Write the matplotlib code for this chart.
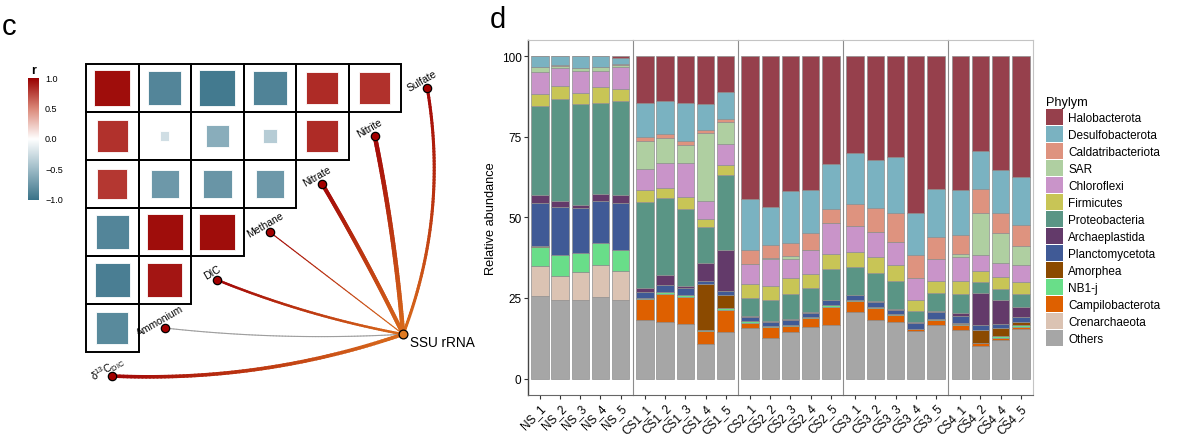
import numpy as np
import matplotlib
matplotlib.use("Agg")
import matplotlib.pyplot as plt
from matplotlib.colors import LinearSegmentedColormap, to_rgb
from matplotlib.collections import LineCollection
from matplotlib.patches import Rectangle, Patch

plt.rcParams['font.family'] = ['Liberation Sans', 'DejaVu Sans']

# ---------------- panel c data ----------------
env_vars = ['Sulfate', 'Nitrite', 'Nitrate', 'Methane', 'DIC', 'Ammonium',
            r'$\mathregular{\delta^{13}C_{DIC}}$']
# correlation triangle, one list per row (top row first)
corr_rows = [
    [0.95, -0.87, -0.95, -0.89, 0.84, 0.82],
    [0.82, -0.24, -0.60, -0.37, 0.84],
    [0.79, -0.74, -0.76, -0.74],
    [-0.87, 0.95, 0.95],
    [-0.92, 0.92],
    [-0.84],
]
link_width = [2.2, 3.2, 2.9, 0.8, 1.8, 0.8, 2.6]
link_signif = [True, True, True, True, True, False, True]
link_curv = [0.137, 0.03, 0.02, 0.0, -0.05, -0.042, -0.095]
cbar_ticks = [1.0, 0.5, 0.0, -0.5, -1.0]

# ---------------- panel d data ----------------
groups = ['NS', 'CS1', 'CS2', 'CS3', 'CS4']
group_samples = [
    ['NS_1', 'NS_2', 'NS_3', 'NS_4', 'NS_5'],
    ['CS1_1', 'CS1_2', 'CS1_3', 'CS1_4', 'CS1_5'],
    ['CS2_1', 'CS2_2', 'CS2_3', 'CS2_4', 'CS2_5'],
    ['CS3_1', 'CS3_2', 'CS3_3', 'CS3_4', 'CS3_5'],
    ['CS4_1', 'CS4_2', 'CS4_4', 'CS4_5'],
]
phyla = ['Halobacterota', 'Desulfobacterota', 'Caldatribacteriota', 'SAR', 'Chloroflexi',
         'Firmicutes', 'Proteobacteria', 'Archaeplastida', 'Planctomycetota', 'Amorphea',
         'NB1-j', 'Campilobacterota', 'Crenarchaeota', 'Others']
phyla_colors = ['#96404C', '#7AB2C1', '#DE937F', '#AFCFA1', '#C994C9',
                '#C8C556', '#5A9585', '#633A6A', '#405A96', '#8B4A00',
                '#69DE89', '#DE6000', '#DBC3B3', '#A6A6A6']

# values per phylum, samples in order NS_1..CS4_5
halobacterota = [0, 0, 0, 0, 0.5, 14.5, 13.9, 14.6, 15.0, 11.1, 44.2, 46.7, 41.8, 41.4, 33.4,
                 30.2, 32.3, 31.4, 48.6, 41.3, 41.4, 29.4, 35.4, 37.4]
desulfobacterota = [3.3, 2.9, 3.6, 3.3, 1.9, 10.7, 10.1, 11.7, 7.8, 8.5, 15.9, 12.0, 16.0, 13.5, 14.0,
                    15.7, 14.8, 17.3, 13.2, 14.8, 14.1, 11.9, 13.4, 14.9]
caldatribacteriota = [0.2, 0.2, 0.2, 0.2, 0.2, 1.1, 1.4, 1.2, 1.0, 0.7, 4.4, 4.1, 4.2, 5.3, 4.3,
                      6.8, 7.5, 9.0, 7.1, 6.8, 5.8, 7.3, 6.0, 6.6]
sar = [1.5, 0.7, 0.9, 1.0, 0.7, 8.7, 7.7, 5.6, 21.1, 6.8, 0.1, 0.1, 1.0, 0, 0,
       0, 0, 0, 0, 0, 1.0, 13.1, 9.4, 5.8]
chloroflexi = [6.9, 5.4, 6.7, 5.0, 6.8, 6.6, 7.7, 10.7, 5.7, 6.8, 6.0, 8.6, 5.9, 7.3, 9.7,
               8.2, 7.7, 7.1, 6.8, 6.9, 7.5, 4.8, 4.3, 5.5]
firmicutes = [3.6, 4.2, 3.3, 4.9, 3.9, 3.7, 3.3, 3.7, 2.4, 3.0, 4.6, 4.1, 5.0, 4.4, 4.6,
              4.7, 5.0, 5.0, 3.4, 3.7, 4.1, 3.7, 3.7, 3.7]
proteobacteria = [27.7, 31.6, 31.5, 28.5, 29.1, 26.6, 23.8, 23.8, 11.3, 23.1, 5.6, 6.5, 7.7, 7.6, 9.7,
                  8.4, 8.7, 8.6, 3.4, 5.6, 5.9, 3.3, 3.4, 3.9]
archaeplastida = [2.3, 1.8, 0.9, 2.1, 2.3, 1.3, 3.1, 0.6, 5.3, 12.7, 0.3, 0.3, 0.3, 0.2, 0,
                  0.2, 0.2, 0.3, 0.2, 0.3, 0.7, 9.8, 7.4, 3.2]
planctomycetota = [13.4, 15.0, 13.9, 13.0, 14.6, 1.7, 2.1, 2.3, 1.2, 1.4, 1.2, 1.3, 1.4, 1.3, 1.4,
                   1.5, 1.4, 1.3, 1.8, 2.2, 2.2, 1.6, 1.3, 1.3]
amorphea = [0.2, 0, 0, 0, 0, 0, 0, 0, 14.0, 4.1, 0, 0, 0, 0, 0,
            0, 0, 0, 0, 0, 0.3, 4.2, 2.5, 1.2]
nb1j = [6.0, 6.5, 6.1, 6.8, 6.7, 0.5, 0.6, 0.5, 0.3, 0.5, 0.6, 0.3, 0.4, 0.2, 0.5,
        0.4, 0.4, 0.4, 0.1, 0.2, 0.3, 0, 0.6, 0.5]
campilobacterota = [0, 0, 0, 0, 0, 6.4, 8.8, 8.3, 4.1, 7.0, 1.6, 3.5, 1.9, 2.7, 5.6,
                    3.2, 3.7, 1.9, 0.7, 1.7, 1.6, 0.7, 0.5, 0.6]
crenarchaeota = [9.4, 7.4, 8.6, 10.0, 8.8, 0, 0, 0, 0, 0, 0, 0, 0, 0, 0,
                 0, 0, 0, 0, 0, 0, 0, 0, 0]
others = [25.5, 24.3, 24.3, 25.2, 24.5, 18.2, 17.5, 17.0, 10.8, 14.3, 15.6, 12.6, 14.4, 16.1, 16.7,
          20.8, 18.2, 17.7, 14.7, 16.5, 15.1, 10.2, 12.1, 15.4]

abund = np.array([halobacterota, desulfobacterota, caldatribacteriota, sar, chloroflexi,
                  firmicutes, proteobacteria, archaeplastida, planctomycetota, amorphea,
                  nb1j, campilobacterota, crenarchaeota, others], dtype=float)
abund = abund / abund.sum(axis=0) * 100

W, H = 1179, 435
fig = plt.figure(figsize=(W / 100, H / 100), dpi=100)

# ================= panel c =================
cmap = LinearSegmentedColormap.from_list(
    'corr', [(0, '#3A7389'), (0.25, '#9DBBC7'), (0.5, '#FFFFFF'), (0.75, '#DB8879'), (1, '#990000')])

axc = fig.add_axes([0, 0, 483 / W, 1])
axc.set_xlim(0, 483)
axc.set_ylim(H, 0)
axc.axis('off')

x0, y0, cw, ch = 86, 65, 52.5, 48
smax = 38
for i, row in enumerate(corr_rows):
    for j, r in enumerate(row):
        cx, cy = x0 + (j + 0.5) * cw, y0 + (i + 0.5) * ch
        s = smax * abs(r)
        axc.add_patch(Rectangle((cx - s / 2, cy - s / 2), s, s, fc=cmap((r + 1) / 2),
                                ec='white', lw=0.6, zorder=2))
        axc.add_patch(Rectangle((x0 + j * cw, y0 + i * ch), cw, ch, fill=False,
                                ec='black', lw=1.4, zorder=3))

hub = np.array([x0 + cw * 6.04, y0 + ch * 5.63])
c_hub = np.array(to_rgb('#D96C1C'))
c_node = np.array(to_rgb('#A30808'))


def curve(p0, p1, k, n=80):
    d = p1 - p0
    ctrl = (p0 + p1) / 2 + k * np.array([-d[1], d[0]])
    t = np.linspace(0, 1, n)[:, None]
    return (1 - t) ** 2 * p0 + 2 * (1 - t) * t * ctrl + t ** 2 * p1


for i, name in enumerate(env_vars):
    node = np.array([x0 + cw * (6.5 - i), y0 + ch * (i + 0.5)])
    pts = curve(hub, node, link_curv[i])
    segs = np.stack([pts[:-1], pts[1:]], axis=1)
    if link_signif[i]:
        t = np.linspace(0, 1, len(segs))[:, None]
        cols = c_hub * (1 - t) + c_node * t
    else:
        cols = ['#9E9E9E'] * len(segs)
    axc.add_collection(LineCollection(segs, colors=cols, linewidths=link_width[i],
                                      capstyle='round', zorder=4))
    axc.scatter(node[0], node[1], s=36, c='#A30000', edgecolors='black', linewidths=0.9, zorder=6)
    axc.text(node[0] - 5, node[1] - 8, name, rotation=30, rotation_mode='anchor',
             ha='center', va='center', fontsize=7.5, zorder=7)

axc.scatter(hub[0], hub[1], s=40, c='#E07B22', edgecolors='black', linewidths=0.9, zorder=6)
axc.text(hub[0] + 7, hub[1] + 8, 'SSU rRNA', ha='left', va='center', fontsize=9.8)

# colour bar
cb_top, cb_bot = 79, 201
grad = np.linspace(1, -1, 256)[:, None]
axc.imshow(grad, extent=[28, 39, cb_bot, cb_top], cmap=cmap, vmin=-1, vmax=1,
           aspect='auto', origin='upper', zorder=1)
for v in cbar_ticks:
    yy = cb_top + (1 - v) / 2 * (cb_bot - cb_top)
    axc.text(45, yy, f'{v:.1f}'.replace('-', '\u2212'), ha='left', va='center', fontsize=6.5)
axc.text(33.5, 71, 'r', ha='center', va='center', fontsize=9, fontweight='bold')
axc.set_xlim(0, 483)
axc.set_ylim(H, 0)
axc.text(2, 35, 'c', fontsize=21, ha='left', va='baseline')

# ================= panel d =================
fig.text(490 / W, 1 - 28 / H, 'd', fontsize=21, ha='left', va='baseline')

left, right, top, bottom = 527.7, 1033, 41, 395.7
gs = fig.add_gridspec(1, len(groups), left=left / W, right=right / W,
                      top=1 - top / H, bottom=1 - bottom / H, wspace=0,
                      width_ratios=[len(s) + 0.2 for s in group_samples])

col = 0
for g, samples in enumerate(group_samples):
    ax = fig.add_subplot(gs[0, g])
    n = len(samples)
    xs = np.arange(1, n + 1)
    base = np.zeros(n)
    for p in range(len(phyla) - 1, -1, -1):
        vals = abund[p, col:col + n]
        ax.bar(xs, vals, bottom=base, width=0.86, color=phyla_colors[p],
               edgecolor='#8f8f8f', linewidth=0.5)
        base += vals
    col += n
    ax.set_xlim(0.4, n + 0.6)
    ax.set_ylim(-5, 105)
    ax.set_xticks(xs)
    ax.set_xticklabels(samples, rotation=45, ha='right', va='top', rotation_mode='anchor',
                       fontsize=8.5)
    ax.tick_params(axis='x', length=3, width=0.8, color='#333333', pad=2)
    ax.spines['top'].set_color('#c4c4c4')
    ax.spines['bottom'].set_color('#666666')
    ax.spines['right'].set_visible(g == len(groups) - 1)
    ax.spines['right'].set_color('#c4c4c4')
    if g == 0:
        ax.spines['left'].set_color('#444444')
        ax.spines['left'].set_linewidth(1.0)
        ax.set_yticks([0, 25, 50, 75, 100])
        ax.tick_params(axis='y', length=3, width=0.8, color='#333333', pad=1.5, labelsize=8.5)
        ax.set_ylabel('Relative abundance', fontsize=9.2, labelpad=3)
    else:
        ax.spines['left'].set_color('#8c8c8c')
        ax.set_yticks([])

handles = [Patch(facecolor=c, edgecolor='none') for c in phyla_colors]
fig.legend(handles, phyla, title='Phylym', loc='upper left',
           bbox_to_anchor=(1046 / W, 1 - 97 / H), frameon=False, fontsize=8.5,
           title_fontsize=9.2, handlelength=1.4, handleheight=1.75, labelspacing=0.06,
           handletextpad=0.5, borderaxespad=0, borderpad=0, alignment='left')

fig.savefig('out.png', dpi=100)
